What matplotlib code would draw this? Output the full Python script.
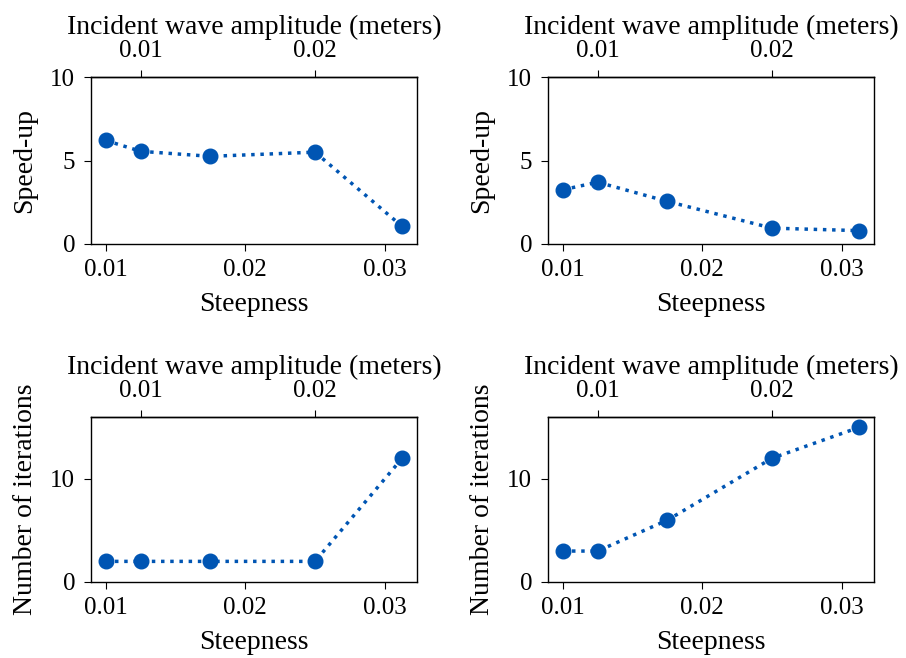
import matplotlib
matplotlib.use("Agg")
import matplotlib.pyplot as plt

steepness = [0.01, 0.0125, 0.0175, 0.025, 0.03125]
speedup_a = [6.2, 5.55, 5.25, 5.5, 1.05]
speedup_b = [3.25, 3.7, 2.55, 0.95, 0.8]
iters_a = [2, 2, 2, 2, 12]
iters_b = [3, 3, 6, 12, 15]
amp_ratio = 0.8  # amplitude (m) per unit steepness

plt.rcParams['font.family'] = ['Liberation Serif', 'DejaVu Serif']
plt.rcParams['font.size'] = 20
plt.rcParams['xtick.labelsize'] = 18
plt.rcParams['ytick.labelsize'] = 18
plt.rcParams['axes.linewidth'] = 1.0
plt.rcParams['xtick.major.size'] = 5
plt.rcParams['ytick.major.size'] = 5
plt.rcParams['xtick.major.pad'] = 6
plt.rcParams['ytick.major.pad'] = 6.5

color = '#0055b3'
fig = plt.figure(figsize=(9.06, 6.58), dpi=100)

W, H = 906, 658
def rect(l, t, r, b):
    return [l / W, 1 - b / H, (r - l) / W, (b - t) / H]

panels = [
    (rect(91, 77, 417, 244), speedup_a, 'Speed-up', (0, 10), [0, 5, 10]),
    (rect(548, 77, 874, 244), speedup_b, 'Speed-up', (0, 10), [0, 5, 10]),
    (rect(91, 417, 417, 582), iters_a, 'Number of iterations', (0, 16), [0, 10]),
    (rect(548, 417, 874, 582), iters_b, 'Number of iterations', (0, 16), [0, 10]),
]

for r, vals, ylabel, ylim, yticks in panels:
    ax = fig.add_axes(r)
    ax.plot(steepness, vals, linestyle=':', linewidth=2.5, marker='o',
            markersize=10.5, color=color)
    ax.set_ylim(*ylim)
    ax.set_yticks(yticks)
    ax.set_xticks([0.01, 0.02, 0.03])
    ax.set_xticklabels(['0.01', '0.02', '0.03'])
    ax.set_xlabel('Steepness', labelpad=8)
    ax.set_ylabel(ylabel, labelpad=9)
    sec = ax.secondary_xaxis('top', functions=(lambda s: s * amp_ratio,
                                               lambda a: a / amp_ratio))
    sec.set_xticks([0.01, 0.02])
    sec.set_xticklabels(['0.01', '0.02'])
    sec.tick_params(axis='x', length=5, pad=6)
    sec.set_xlabel('Incident wave amplitude (meters)', labelpad=4)

fig.savefig('out.png', dpi=100)
